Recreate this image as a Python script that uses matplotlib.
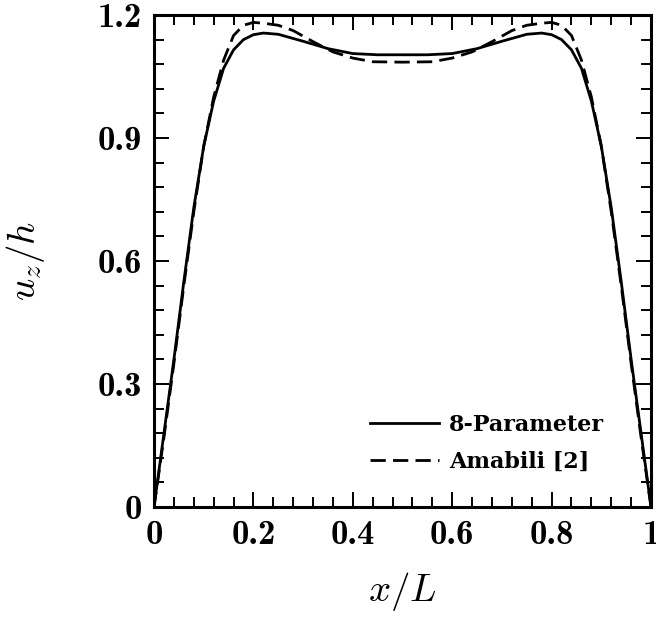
import matplotlib
matplotlib.use("Agg")
import matplotlib.pyplot as plt
from matplotlib.ticker import MultipleLocator

# 8-Parameter solution (solid)
x_8p = [0, 0.01, 0.02, 0.04, 0.06, 0.08, 0.10, 0.12, 0.14, 0.16, 0.18, 0.20, 0.22,
        0.25, 0.30, 0.35, 0.40, 0.45, 0.50, 0.55, 0.60, 0.65, 0.70, 0.75, 0.78,
        0.80, 0.82, 0.84, 0.86, 0.88, 0.90, 0.92, 0.94, 0.96, 0.98, 0.99, 1.0]
u_8p = [0, 0.09, 0.18, 0.36, 0.55, 0.73, 0.88, 0.99, 1.07, 1.115, 1.14, 1.152, 1.156,
        1.153, 1.136, 1.118, 1.106, 1.103, 1.103, 1.103, 1.106, 1.118, 1.136, 1.153, 1.156,
        1.152, 1.14, 1.115, 1.07, 0.99, 0.88, 0.73, 0.55, 0.36, 0.18, 0.09, 0]

# Amabili [2] (dashed)
x_am = [0, 0.02, 0.04, 0.06, 0.08, 0.10, 0.12, 0.14, 0.16, 0.18, 0.20, 0.22, 0.25,
        0.28, 0.32, 0.36, 0.40, 0.44, 0.50, 0.56, 0.60, 0.64, 0.68, 0.72, 0.75,
        0.78, 0.80, 0.82, 0.84, 0.86, 0.88, 0.90, 0.92, 0.94, 0.96, 0.98, 1.0]
u_am = [0, 0.17, 0.35, 0.54, 0.72, 0.88, 1.00, 1.09, 1.15, 1.175, 1.182, 1.18, 1.175,
        1.162, 1.135, 1.11, 1.095, 1.086, 1.085, 1.086, 1.095, 1.11, 1.135, 1.162, 1.175,
        1.18, 1.182, 1.175, 1.15, 1.09, 1.00, 0.88, 0.72, 0.54, 0.35, 0.17, 0]

xticks = [0, 0.2, 0.4, 0.6, 0.8, 1]
xtick_labels = ["0", "0.2", "0.4", "0.6", "0.8", "1"]
yticks = [0, 0.3, 0.6, 0.9, 1.2]
ytick_labels = ["0", "0.3", "0.6", "0.9", "1.2"]

plt.rcParams['mathtext.fontset'] = 'cm'

fig = plt.figure(figsize=(6.56, 6.18), dpi=100)
ax = fig.add_axes([0.2348, 0.1796, 0.7576, 0.7961])

ax.plot(x_8p, u_8p, color='black', lw=2.0, label='8-Parameter')
ax.plot(x_am, u_am, color='black', lw=2.0, dashes=(5.5, 2.6), label='Amabili [2]')

ax.set_xlim(0, 1)
ax.set_ylim(0, 1.2)
ax.set_xticks(xticks)
ax.set_xticklabels(xtick_labels, fontfamily='cmb10', fontsize=25)
ax.set_yticks(yticks)
ax.set_yticklabels(ytick_labels, fontfamily='cmb10', fontsize=25)
ax.xaxis.set_minor_locator(MultipleLocator(0.04))
ax.yaxis.set_minor_locator(MultipleLocator(0.06))
ax.tick_params(which='both', direction='in', top=True, right=True, width=1.4)
ax.tick_params(which='major', length=11, pad=9)
ax.tick_params(which='minor', length=7)
for s in ax.spines.values():
    s.set_linewidth(2.2)

ax.set_xlabel(r'$x/L$', fontsize=28, labelpad=14)
ax.set_ylabel(r'$u_z/h$', fontsize=28, labelpad=36)

ax.legend(loc='upper left', bbox_to_anchor=(0.435, 0.19), frameon=False,
          handlelength=3.1, handletextpad=0.45, borderpad=0, borderaxespad=0,
          prop={'family': 'DejaVu Serif', 'weight': 'bold', 'size': 16},
          labelspacing=0.7)

fig.savefig('out.png', dpi=100)
